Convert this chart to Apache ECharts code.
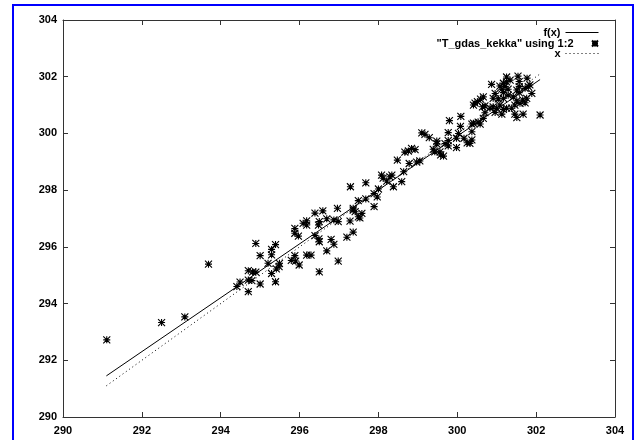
<!DOCTYPE html>
<html><head><meta charset="utf-8">
<script src="https://cdn.jsdelivr.net/npm/echarts@6/dist/echarts.min.js"></script>
<style>html,body{margin:0;padding:0;background:#fff}#c{width:636px;height:440px}</style>
</head><body><div id="c"></div>
<script>
// observed points ("T_gdas_kekka" using 1:2)
const obsX = [291.11,292.50,293.09,293.69,294.89,295.00,295.39,295.29,295.29,295.20,294.70,294.81,294.89,294.49,294.41,294.70,294.79,295.00,294.70,295.29,295.39,295.49,295.48,295.41,295.79,295.88,295.90,295.99,296.18,296.29,295.88,295.88,295.97,296.09,296.18,296.18,296.39,296.59,296.50,296.48,296.69,296.87,296.96,296.39,296.49,296.50,296.80,296.87,296.69,296.98,296.50,296.98,297.28,297.36,297.20,297.36,297.58,297.53,297.41,297.49,298.08,298.12,298.21,297.29,297.68,298.00,297.89,297.97,297.68,297.49,297.89,297.36,298.29,298.38,298.59,298.34,298.64,298.48,298.78,298.97,299.05,298.67,298.76,298.84,298.93,299.10,299.18,299.29,299.48,299.48,299.56,299.43,299.58,299.65,299.39,299.77,299.69,299.77,299.98,299.98,300.03,300.17,300.32,300.25,300.37,299.77,299.80,300.09,300.08,300.41,300.53,300.41,300.51,300.37,300.58,300.66,300.37,300.87,301.17,301.25,301.34,301.57,301.08,301.21,301.13,301.29,301.17,301.51,301.72,301.80,301.84,301.89,301.57,301.57,301.66,301.72,301.59,301.51,301.46,301.76,301.17,301.04,301.08,301.00,301.17,301.13,300.96,300.83,300.70,300.70,300.59,300.45,301.46,301.67,302.10,301.51,301.38,300.96,301.29,301.42,300.64,300.91,301.25,300.66,300.91,301.25,301.54,301.77];
const obsY = [292.72,293.33,293.53,295.39,296.12,295.69,296.08,295.91,295.72,295.42,295.16,295.12,295.11,294.76,294.60,294.83,294.81,294.69,294.42,295.06,294.77,295.42,295.30,295.22,295.52,295.69,295.50,295.36,295.71,295.71,296.65,296.48,296.38,296.83,296.92,296.77,297.19,297.27,296.89,296.77,296.99,296.95,297.36,296.40,296.28,296.18,296.26,296.09,295.86,295.50,295.12,296.89,296.91,296.52,296.34,297.30,297.18,297.02,297.24,297.06,298.53,298.42,298.32,298.12,298.26,298.04,297.88,297.76,297.69,297.63,297.42,297.36,298.47,298.12,298.30,298.53,298.65,299.06,298.94,298.99,299.03,299.34,299.38,299.47,299.43,300.02,299.97,299.85,299.73,299.63,299.35,299.35,299.24,299.20,299.44,299.75,299.64,299.56,299.50,299.83,300.00,299.83,299.65,299.67,299.77,300.03,300.45,300.60,300.25,300.36,300.40,301.00,301.12,300.06,300.33,300.53,300.33,301.73,301.77,301.82,301.88,301.83,301.67,301.65,301.56,301.56,301.44,301.53,301.59,301.65,301.71,301.41,301.44,301.65,301.18,301.08,301.06,301.15,301.00,301.24,301.24,301.22,301.00,300.89,300.85,300.68,300.74,300.89,300.97,300.73,301.21,301.07,300.68,300.68,300.65,300.56,300.89,301.41,301.35,301.29,300.94,300.94,300.89,301.29,301.24,301.99,302.02,301.95];
// fitted line f(x) and identity line x
const fitX = [291.1, 302.1];
const fitY = [291.45, 301.90];
const idX = [291.1, 302.1];
const idY = [291.1, 302.1];
const axisTicks = [290, 292, 294, 296, 298, 300, 302, 304];
const names = ['f(x)', '"T_gdas_kekka" using 1:2', 'x'];

const font = {fontFamily: '"Liberation Sans", Arial, sans-serif', fontWeight: 'bold', fontSize: 11, color: '#000'};
const star = 'path://M0 0 L8 8 M8 0 L0 8 M4 0 L4 8 M0 4 L8 4';
const zip = (a, b) => a.map((v, i) => [v, b[i]]);

const chart = echarts.init(document.getElementById('c'), null, {renderer: 'canvas'});
const axMin = axisTicks[0], axMax = axisTicks[axisTicks.length - 1], axInt = axisTicks[1] - axisTicks[0];
const axLine = {show: true, lineStyle: {color: '#333', width: 1}};
const axTick = {show: true, inside: true, length: 5, lineStyle: {color: '#333'}};
function mkAxis(pos, labels) {
  return {type: 'value', position: pos, min: axMin, max: axMax, interval: axInt,
    axisLine: axLine, axisTick: axTick, splitLine: {show: false},
    axisLabel: labels ? Object.assign({show: true, margin: pos === 'bottom' ? 8 : 6}, font) : {show: false}};
}
function mkLegend(name, top, h, isLine, dash) {
  const l = {data: [name], right: 37, top: top, orient: 'vertical', align: 'right',
    itemWidth: 33, itemHeight: h, itemGap: 0, padding: 0, textStyle: font, selectedMode: false};
  if (isLine) {
    l.itemStyle = {opacity: 0};
    l.lineStyle = {width: 1, color: '#000', type: dash ? [1, 3] : 'solid'};
  }
  return l;
}
chart.setOption({
  animation: false,
  backgroundColor: '#fff',
  grid: {left: 63, right: 21, top: 20, bottom: 23},
  xAxis: [mkAxis('bottom', true), mkAxis('top', false)],
  yAxis: [mkAxis('left', true), mkAxis('right', false)],
  legend: [mkLegend(names[0], 27, 10, true, false), mkLegend(names[1], 38, 6, false), mkLegend(names[2], 48, 10, true, true)],
  graphic: [{type: 'rect', shape: {x: 13, y: 5, width: 620, height: 450},
    style: {fill: 'none', stroke: '#0000ff', lineWidth: 2}, silent: true}],
  series: [
    {name: names[0], type: 'line', data: zip(fitX, fitY), symbol: 'none',
      lineStyle: {color: '#000', width: 1}, itemStyle: {color: '#000'}},
    {name: names[1], type: 'scatter', data: zip(obsX, obsY), symbol: star, symbolSize: 7,
      itemStyle: {color: 'rgba(0,0,0,0)', borderColor: '#000', borderWidth: 1.1, opacity: 1}},
    {name: names[2], type: 'line', data: zip(idX, idY), symbol: 'none',
      lineStyle: {color: '#000', width: 1, type: [1, 3]}, itemStyle: {color: '#000'}}
  ]
});
</script></body></html>
